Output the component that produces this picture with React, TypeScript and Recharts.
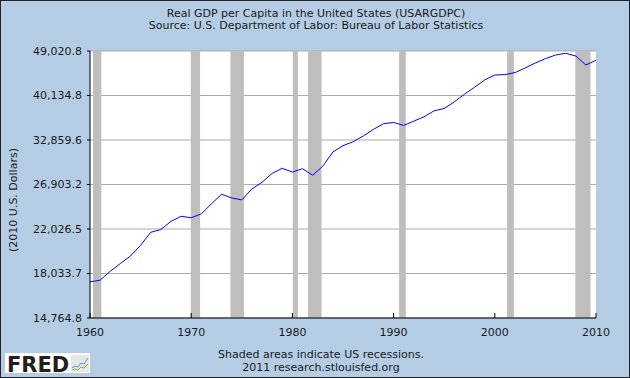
import React from 'react'
import {
    ComposedChart,
    Line,
    XAxis,
    YAxis,
    CartesianGrid,
    ReferenceArea
} from 'recharts'

const years = [
    1960, 1961, 1962, 1963, 1964, 1965, 1966, 1967, 1968, 1969,
    1970, 1971, 1972, 1973, 1974, 1975, 1976, 1977, 1978, 1979,
    1980, 1981, 1982, 1983, 1984, 1985, 1986, 1987, 1988, 1989,
    1990, 1991, 1992, 1993, 1994, 1995, 1996, 1997, 1998, 1999,
    2000, 2001, 2002, 2003, 2004, 2005, 2006, 2007, 2008, 2009,
    2010
]

const gdpPerCapita = [
    17370, 17500, 18220, 18860, 19510, 20470, 21700, 21970, 22790, 23320,
    23170, 23580, 24660, 25750, 25330, 25100, 26370, 27170, 28290, 28930,
    28450, 28880, 28050, 29200, 31140, 32030, 32610, 33450, 34460, 35350,
    35560, 35080, 35770, 36470, 37460, 37860, 39000, 40370, 41650, 43040,
    44010, 44090, 44490, 45420, 46440, 47370, 48140, 48520, 47930, 46030,
    47030
]

const recessionStart = [1960.29, 1969.96, 1973.88, 1980.04, 1981.54, 1990.54, 2001.21, 2007.96]
const recessionEnd = [1961.12, 1970.88, 1975.21, 1980.54, 1982.88, 1991.21, 2001.88, 2009.46]

const xTicks = [1960, 1970, 1980, 1990, 2000, 2010]
const yTicks = [14764.8, 18033.7, 22026.5, 26903.2, 32859.6, 40134.8, 49020.8]

const data = years.map((year, i) => ({ year, value: gdpPerCapita[i] }))

const FONT = '"DejaVu Sans", Verdana, sans-serif'
const BG = '#b4cde5'

const formatTick = (v: number) =>
    v.toLocaleString('en-US', { minimumFractionDigits: 1, maximumFractionDigits: 1 })

export default function App() {
    return (
        <div style={{ position: 'absolute', left: 0, top: 0, width: 630, height: 378, background: BG, fontFamily: FONT }}>
            <ComposedChart
                width={630}
                height={378}
                data={data}
                margin={{ top: 51, right: 34, bottom: 30, left: 0 }}
            >
                <CartesianGrid vertical={false} fill="#ffffff" stroke="#ababab" strokeWidth={1} />
                {recessionStart.map((start, i) => (
                    <ReferenceArea
                        key={start}
                        x1={start}
                        x2={recessionEnd[i]}
                        fill="#bebebe"
                        fillOpacity={1}
                        stroke="none"
                    />
                ))}
                <XAxis
                    dataKey="year"
                    type="number"
                    domain={[1960, 2010]}
                    ticks={xTicks}
                    height={30}
                    axisLine={{ stroke: '#000' }}
                    tickLine={{ stroke: '#000' }}
                    tickSize={-5}
                    tickMargin={15}
                    tick={{ fontSize: 11, fill: '#1a1a1a', fontFamily: FONT }}
                    interval={0}
                />
                <YAxis
                    scale="log"
                    domain={[14764.8, 49020.8]}
                    allowDataOverflow
                    ticks={yTicks}
                    tickFormatter={formatTick}
                    width={90}
                    axisLine={{ stroke: '#000' }}
                    tickLine={{ stroke: '#000' }}
                    tickSize={3}
                    tickMargin={5}
                    tick={{ fontSize: 11, fill: '#1a1a1a', fontFamily: FONT }}
                    interval={0}
                />
                <Line
                    dataKey="value"
                    type="linear"
                    stroke="#0000ff"
                    strokeWidth={1}
                    dot={false}
                    activeDot={false}
                    isAnimationActive={false}
                />
            </ComposedChart>
            <svg
                width={630}
                height={378}
                style={{ position: 'absolute', left: 0, top: 0, pointerEvents: 'none' }}
            >
                <text x={316} y={17} textAnchor="middle" fontSize={11} fill="#1a1a1a" fontFamily={FONT}>
                    Real GDP per Capita in the United States (USARGDPC)
                </text>
                <text x={316} y={29} textAnchor="middle" fontSize={11} fill="#1a1a1a" fontFamily={FONT}>
                    Source: U.S. Department of Labor: Bureau of Labor Statistics
                </text>
                <text
                    x={17}
                    y={200}
                    transform="rotate(-90, 17, 200)"
                    textAnchor="middle"
                    fontSize={11}
                    fill="#1a1a1a"
                    fontFamily={FONT}
                >
                    (2010 U.S. Dollars)
                </text>
                <text x={321} y={358} textAnchor="middle" fontSize={11} fill="#1a1a1a" fontFamily={FONT}>
                    Shaded areas indicate US recessions.
                </text>
                <text x={321} y={371} textAnchor="middle" fontSize={11} fill="#1a1a1a" fontFamily={FONT}>
                    2011 research.stlouisfed.org
                </text>
                {/* FRED logo */}
                <rect x={5} y={353} width={85} height={20} fill="#ffffff" />
                <text x={7} y={371.5} fontSize={21} fontWeight="bold" fill="#231f20" fontFamily={FONT}>
                    FRED
                </text>
                <rect x={71} y={355} width={18} height={17} fill="#e6e6e6" />
                <polyline points="72,368 75,366 78,367 81,363 84,364 88,358" fill="none" stroke="#6b8fc6" strokeWidth={1} />
                <polyline points="72,370 75,369 78,370 81,367 84,368 88,364" fill="none" stroke="#7cb342" strokeWidth={1} />
                <rect x={0.5} y={0.5} width={629} height={377} fill="none" stroke="#222" strokeWidth={1} />
            </svg>
        </div>
    )
}
